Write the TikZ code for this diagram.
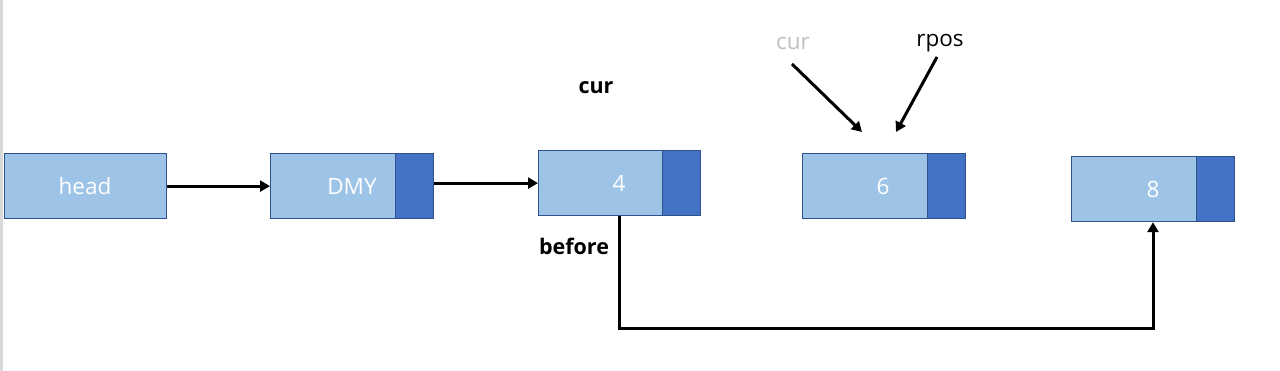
\documentclass[tikz,border=0pt]{standalone}
\usepackage{fontspec}
\setmainfont{Open Sans}
\usetikzlibrary{arrows.meta}
\definecolor{lightb}{HTML}{9DC3E6}
\definecolor{darkb}{HTML}{4472C4}
\definecolor{edgeb}{HTML}{2F528F}
\tikzset{
  x=1pt, y=-1pt,
  cell/.style={draw=edgeb, line width=1.2pt, fill=lightb, minimum height=65pt, inner sep=0pt},
  tip/.style={draw=edgeb, line width=1.2pt, fill=darkb, minimum width=38pt, minimum height=65pt, inner sep=0pt},
  val/.style={text=white, font=\fontsize{22.5}{26}\selectfont},
  lbl/.style={font=\fontsize{22.5}{26}\selectfont},
  blbl/.style={font=\bfseries\fontsize{21.5}{25}\selectfont},
  conn/.style={line width=3pt, -{Triangle[length=10pt,width=11pt]}},
}
\begin{document}
\begin{tikzpicture}
\useasboundingbox (0,0) rectangle (1280,371);
\fill[gray!30] (0,0) rectangle (3,371);
% head
\node[cell, minimum width=162pt, anchor=north west] (head) at (4,153) {};
\node[val] (headt) at (85,186) {head};
% DMY
\node[cell, minimum width=125pt, anchor=north west] (dmy) at (270,153) {};
\node[tip, anchor=north west] (dmyp) at (395,153) {};
\node[val] (dmyt) at (352,186) {DMY};
% 4
\node[cell, minimum width=124pt, anchor=north west] (n4) at (538,150) {};
\node[tip, anchor=north west] (n4p) at (662,150) {};
\node[val] (n4t) at (619,183) {4};
% 6
\node[cell, minimum width=125pt, anchor=north west] (n6) at (802,153) {};
\node[tip, anchor=north west] (n6p) at (927,153) {};
\node[val] (n6t) at (883,186) {6};
% 8
\node[cell, minimum width=125pt, anchor=north west] (n8) at (1071,156) {};
\node[tip, anchor=north west] (n8p) at (1196,156) {};
\node[val] (n8t) at (1153,189) {8};
% labels
\node[blbl] (cur1) at (596,88) {cur};
\node[blbl] (before) at (574,246) {before};
\node[lbl, text=gray!50] (cur2) at (793,43) {cur};
\node[lbl] (rpos) at (940,43) {rpos};
\coordinate (c2s) at (792,64);
\coordinate (c2e) at (862,132);
\coordinate (rps) at (937,57);
\coordinate (rpe) at (896,132);
% connectors
\draw[conn] (head.east) -- (dmy.west);
\draw[conn] (dmyp.east |- n4.west) -- (n4.west);
\draw[conn] (c2s) -- (c2e);
\draw[conn] (rps) -- (rpe);
\draw[conn] (n4.south -| n4t) -- ++(0,112) -| (n8.south -| n8t);
\end{tikzpicture}
\end{document}
